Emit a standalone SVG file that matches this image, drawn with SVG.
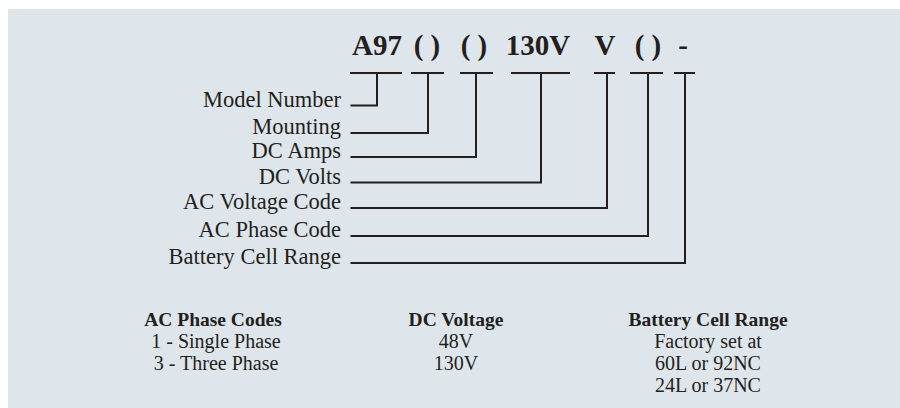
<svg xmlns="http://www.w3.org/2000/svg" width="900" height="408" viewBox="0 0 900 408">
<style>
.code{font-family:"Liberation Serif","Times New Roman",serif;font-weight:bold;font-size:29px;fill:#231f20;text-anchor:middle}
.lbl{font-family:"Liberation Serif","Times New Roman",serif;font-size:22.5px;fill:#231f20;text-anchor:end}
.hd{font-family:"Liberation Serif","Times New Roman",serif;font-weight:bold;font-size:19.5px;fill:#231f20;text-anchor:middle}
.tx{font-family:"Liberation Serif","Times New Roman",serif;font-size:20px;fill:#231f20;text-anchor:middle}
.ln{fill:none;stroke:#231f20;stroke-width:2}
</style>
<rect x="8" y="9" width="892" height="399" fill="#dee5eb"/>
<g id="code">
<text class="code" x="377" y="55">A97</text>
<text class="code" x="427" y="55">( )</text>
<text class="code" x="474" y="55">( )</text>
<text class="code" x="538" y="55">130V</text>
<text class="code" x="605" y="55">V</text>
<text class="code" x="648" y="55">( )</text>
<text class="code" x="683" y="55">-</text>
</g>
<g id="labels">
<g id="model"><text class="lbl" x="341" y="107">Model Number</text></g>
<g id="mounting"><text class="lbl" x="341" y="134">Mounting</text></g>
<g id="dcamps"><text class="lbl" x="341" y="158">DC Amps</text></g>
<g id="dcvolts"><text class="lbl" x="341" y="184">DC Volts</text></g>
<g id="acvolt"><text class="lbl" x="341" y="209">AC Voltage Code</text></g>
<g id="acphase"><text class="lbl" x="341" y="237">AC Phase Code</text></g>
<g id="battery"><text class="lbl" x="341" y="264">Battery Cell Range</text></g>
</g>
<g id="connectors">
<path class="ln" d="M350,73H402M377,73V105.5H350.5"/>
<path class="ln" d="M411,73H444M428,73V133H350.5"/>
<path class="ln" d="M460,73H493M476,73V157H350.5"/>
<path class="ln" d="M511,73H570M541,73V182.5H350.5"/>
<path class="ln" d="M594,73H615M607,73V208H350.5"/>
<path class="ln" d="M630,73H663M648,73V236H350.5"/>
<path class="ln" d="M674,73H695M685,73V263H350.5"/>
</g>
<g id="legend-phase">
<text class="hd" x="213" y="326">AC Phase Codes</text>
<text class="tx" x="216" y="348">1 - Single Phase</text>
<text class="tx" x="216" y="370">3 - Three Phase</text>
</g>
<g id="legend-dc">
<text class="hd" x="456" y="326">DC Voltage</text>
<text class="tx" x="456" y="348">48V</text>
<text class="tx" x="456" y="370">130V</text>
</g>
<g id="legend-battery">
<text class="hd" x="708" y="326">Battery Cell Range</text>
<text class="tx" x="708" y="348">Factory set at</text>
<text class="tx" x="708" y="370">60L or 92NC</text>
<text class="tx" x="708" y="392">24L or 37NC</text>
</g>
</svg>
